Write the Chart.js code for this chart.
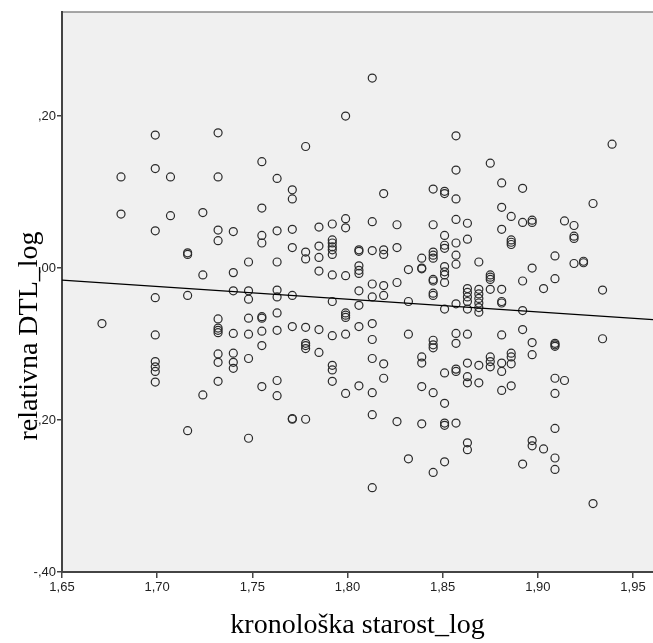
<!DOCTYPE html>
<html>
<head>
<meta charset="utf-8">
<script src="https://cdn.jsdelivr.net/npm/chart.js@4.4.0/dist/chart.umd.min.js"></script>
<style>
  html, body { margin: 0; padding: 0; background: #fff; }
</style>
</head>
<body>
<canvas id="scatter" width="653" height="643"></canvas>
<script>
// x values come in columns (ages are discrete), y values listed per column
const ageLog = [1.671, 1.681, 1.699, 1.707, 1.716, 1.724, 1.732, 1.740, 1.748, 1.755,
  1.763, 1.771, 1.778, 1.785, 1.792, 1.799, 1.806, 1.813, 1.819, 1.826,
  1.832, 1.839, 1.845, 1.851, 1.857, 1.863, 1.869, 1.875, 1.881, 1.886,
  1.892, 1.897, 1.903, 1.909, 1.914, 1.919, 1.924, 1.929, 1.934, 1.939];

const dtlLog = [
  [-0.073],
  [0.120, 0.071],
  [0.175, 0.131, 0.049, -0.039, -0.088, -0.123, -0.130, -0.136, -0.150],
  [0.120, 0.069],
  [0.020, 0.018, -0.036, -0.214],
  [0.073, -0.009, -0.167],
  [0.178, 0.120, 0.050, 0.036, -0.067, -0.079, -0.082, -0.085, -0.113, -0.124, -0.149],
  [0.048, -0.006, -0.030, -0.086, -0.112, -0.124, -0.132],
  [0.008, -0.030, -0.041, -0.066, -0.087, -0.119, -0.224],
  [0.140, 0.079, 0.043, 0.033, -0.064, -0.066, -0.083, -0.102, -0.156],
  [0.118, 0.049, 0.008, -0.029, -0.038, -0.059, -0.082, -0.148, -0.168],
  [0.103, 0.091, 0.051, 0.027, -0.036, -0.077, -0.198, -0.199],
  [0.160, 0.021, 0.012, -0.078, -0.099, -0.102, -0.106, -0.199],
  [0.054, 0.029, 0.014, -0.004, -0.081, -0.111],
  [0.058, 0.037, 0.033, 0.028, 0.024, 0.018, -0.009, -0.044, -0.089, -0.128, -0.134, -0.149],
  [0.200, 0.065, 0.053, -0.010, -0.059, -0.062, -0.065, -0.087, -0.165],
  [0.024, 0.022, 0.003, -0.003, -0.007, -0.030, -0.049, -0.077, -0.155],
  [0.250, 0.061, 0.023, -0.021, -0.038, -0.073, -0.094, -0.119, -0.164, -0.193, -0.289],
  [0.098, 0.024, 0.018, -0.023, -0.036, -0.126, -0.145],
  [0.057, 0.027, -0.019, -0.202],
  [-0.002, -0.044, -0.087, -0.251],
  [0.013, 0.000, -0.001, -0.117, -0.125, -0.156, -0.205],
  [0.104, 0.057, 0.021, 0.017, 0.013, -0.015, -0.017, -0.033, -0.036, -0.095, -0.101, -0.105, -0.164, -0.269],
  [0.101, 0.098, 0.043, 0.030, 0.026, 0.002, -0.005, -0.009, -0.019, -0.054, -0.138, -0.178, -0.204, -0.207, -0.255],
  [0.174, 0.129, 0.091, 0.064, 0.033, 0.017, 0.005, -0.047, -0.086, -0.099, -0.133, -0.136, -0.204],
  [0.059, 0.038, -0.027, -0.032, -0.038, -0.044, -0.054, -0.087, -0.125, -0.143, -0.151, -0.230, -0.239],
  [0.008, -0.028, -0.034, -0.040, -0.046, -0.052, -0.058, -0.128, -0.151],
  [0.138, -0.009, -0.012, -0.015, -0.028, -0.117, -0.123, -0.130],
  [0.112, 0.080, 0.051, -0.028, -0.044, -0.046, -0.088, -0.125, -0.136, -0.161],
  [0.068, 0.037, 0.034, 0.031, -0.112, -0.117, -0.126, -0.155],
  [0.105, 0.060, -0.017, -0.056, -0.081, -0.258],
  [0.063, 0.060, 0.000, -0.098, -0.114, -0.227, -0.234],
  [-0.027, -0.238],
  [0.016, -0.014, -0.099, -0.101, -0.103, -0.145, -0.165, -0.211, -0.250, -0.265],
  [0.062, -0.148],
  [0.056, 0.042, 0.039, 0.006],
  [0.009, 0.007],
  [0.085, -0.310],
  [-0.029, -0.093],
  [0.163]
];

const xTicks = [1.65, 1.70, 1.75, 1.80, 1.85, 1.90, 1.95];
const yTicks = [-0.40, -0.20, 0.00, 0.20];
const xRange = [1.65, 1.9605];
const yRange = [-0.40, 0.337];
const xTitle = 'kronološka starost_log';
const yTitle = 'relativna DTL_log';

const points = ageLog.flatMap((x, i) => dtlLog[i].map(y => ({ x, y })));

// ordinary least squares, the "fit line at total" of the original
function leastSquares(pts) {
  const n = pts.length;
  const mx = pts.reduce((s, p) => s + p.x, 0) / n;
  const my = pts.reduce((s, p) => s + p.y, 0) / n;
  let sxy = 0, sxx = 0;
  pts.forEach(p => { sxy += (p.x - mx) * (p.y - my); sxx += (p.x - mx) ** 2; });
  const b = sxy / sxx;
  return { a: my - b * mx, b };
}
const fit = leastSquares(points);
const fitLine = xRange.map(x => ({ x, y: fit.a + fit.b * x }));

const commaFmt = v => {
  const s = Math.abs(v).toFixed(2).replace('.', ',');
  return (v < -1e-9 ? '-' : '') + (Math.abs(v) < 1 ? s.slice(1) : s);
};

const plotFrame = {
  id: 'plotFrame',
  beforeDraw(chart) {
    const { ctx, chartArea: a } = chart;
    ctx.save();
    ctx.fillStyle = '#f0f0f0';
    ctx.fillRect(a.left, a.top, a.right - a.left, a.bottom - a.top);
    ctx.strokeStyle = '#8a8a8a';
    ctx.lineWidth = 1.5;
    ctx.beginPath();
    ctx.moveTo(a.left, a.top);
    ctx.lineTo(a.right, a.top);
    ctx.stroke();
    ctx.restore();
  },
  afterDraw(chart) {
    const { ctx, chartArea: a } = chart;
    ctx.save();
    ctx.fillStyle = '#000';
    ctx.font = '28px "Liberation Serif", "Times New Roman", serif';
    ctx.textAlign = 'center';
    ctx.textBaseline = 'middle';
    ctx.fillText(xTitle, (a.left + a.right) / 2, 626);
    ctx.translate(30, 336);
    ctx.rotate(-Math.PI / 2);
    ctx.fillText(yTitle, 0, 0);
    ctx.restore();
  }
};

const tickFont = { family: '"Liberation Sans", Arial, sans-serif', size: 13 };

new Chart(document.getElementById('scatter'), {
  type: 'scatter',
  data: {
    datasets: [
      {
        type: 'line',
        data: fitLine,
        borderColor: '#000',
        borderWidth: 1.3,
        pointRadius: 0,
        fill: false
      },
      {
        data: points,
        pointRadius: 4,
        pointHoverRadius: 4,
        borderWidth: 1.2,
        borderColor: '#2a2a2a',
        backgroundColor: 'rgba(0,0,0,0)'
      }
    ]
  },
  options: {
    responsive: false,
    animation: false,
    devicePixelRatio: 1,
    layout: { autoPadding: false, padding: { top: 12, left: 0, right: 0, bottom: 0 } },
    plugins: { legend: { display: false }, tooltip: { enabled: false } },
    scales: {
      x: {
        type: 'linear',
        min: xRange[0],
        max: xRange[1],
        afterBuildTicks: s => { s.ticks = xTicks.map(value => ({ value })); },
        afterFit: s => { s.height = 71; s.paddingLeft = 0; s.paddingRight = 0; },
        grid: { drawOnChartArea: false, drawTicks: true, tickLength: 6, color: '#444', lineWidth: 1.5 },
        border: { display: true, color: '#444', width: 2 },
        ticks: { font: tickFont, color: '#222', padding: 2, maxRotation: 0, callback: commaFmt }
      },
      y: {
        min: yRange[0],
        max: yRange[1],
        afterBuildTicks: s => { s.ticks = yTicks.map(value => ({ value })); },
        afterFit: s => { s.width = 62; s.paddingTop = 0; s.paddingBottom = 0; },
        grid: { drawOnChartArea: false, drawTicks: true, tickLength: 5, color: '#444', lineWidth: 1.5 },
        border: { display: true, color: '#444', width: 2 },
        ticks: { font: tickFont, color: '#222', padding: 1, callback: commaFmt }
      }
    }
  },
  plugins: [plotFrame]
});
</script>
</body>
</html>
